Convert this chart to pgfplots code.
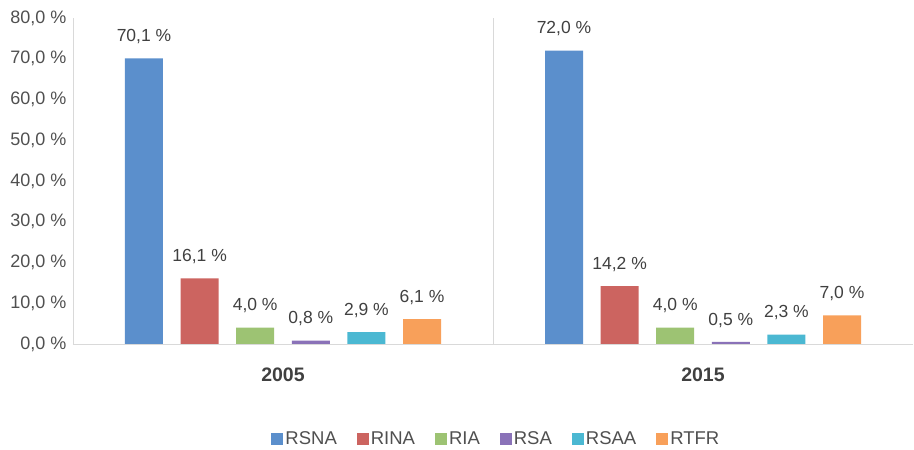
\documentclass[border=0pt]{standalone}
\usepackage{fontspec}
\setmainfont{Liberation Sans}
\usepackage{pgfplots}
\pgfplotsset{compat=1.18}
\definecolor{cA}{HTML}{5B8FCC}
\definecolor{cB}{HTML}{CC6460}
\definecolor{cC}{HTML}{9DC373}
\definecolor{cD}{HTML}{8A72B8}
\definecolor{cE}{HTML}{4BB8D2}
\definecolor{cF}{HTML}{F8A05A}
\definecolor{txt}{HTML}{505050}
\definecolor{lab}{HTML}{404040}
\definecolor{axl}{HTML}{D9D9D9}
\begin{document}
\begin{tikzpicture}
\begin{axis}[
  scale only axis,
  width=840bp, height=326bp,
  ybar=17.6bp, bar width=38bp,
  xmin=-0.5, xmax=1.5,
  ymin=0, ymax=80,
  xtick={0,1}, xticklabels={2005,2015},
  ytick={0,10,...,80},
  extra x ticks={0.5},
  extra x tick labels={},
  extra x tick style={grid=major, major grid style={axl, line width=0.8pt}},
  major tick length=0pt,
  axis x line*=bottom, axis y line*=left,
  x axis line style={axl, line width=1pt, -},
  y axis line style={axl, line width=0.8pt, -},
  /pgf/number format/assume math mode=true,
  yticklabel={\pgfmathprintnumber[fixed,fixed zerofill,precision=1,use comma]{\tick}~\%},
  yticklabel style={font=\fontsize{18bp}{21bp}\selectfont, text=txt, xshift=-3bp},
  xticklabel style={font=\fontsize{19.5bp}{23bp}\selectfont\bfseries, text=lab, yshift=-20bp},
  nodes near coords={\pgfmathprintnumber[fixed,fixed zerofill,precision=1,use comma]{\pgfplotspointmeta}~\%},
  every node near coord/.append style={font=\fontsize{17.5bp}{20bp}\selectfont, text=lab, yshift=11bp},
  legend style={at={(0.504,-0.255)}, anchor=north, draw=none, legend columns=6,
    font=\fontsize{18.5bp}{21bp}\selectfont, text=txt,
    /tikz/every even column/.append style={column sep=18bp}},
  legend image code/.code={\fill[#1] (0bp,-6bp) rectangle (12bp,6bp);},
]
\addplot[fill=cA, draw=none] coordinates {(0,70.1) (1,72.0)};
\addplot[fill=cB, draw=none] coordinates {(0,16.1) (1,14.2)};
\addplot[fill=cC, draw=none] coordinates {(0,4.0) (1,4.0)};
\addplot[fill=cD, draw=none] coordinates {(0,0.8) (1,0.5)};
\addplot[fill=cE, draw=none] coordinates {(0,2.9) (1,2.3)};
\addplot[fill=cF, draw=none] coordinates {(0,6.1) (1,7.0)};
\legend{RSNA,RINA,RIA,RSA,RSAA,RTFR}
\end{axis}
\path[draw=none] ([shift={(-73bp,-104bp)}]current axis.south west) rectangle ([shift={(1bp,18bp)}]current axis.north east);
\end{tikzpicture}
\end{document}
